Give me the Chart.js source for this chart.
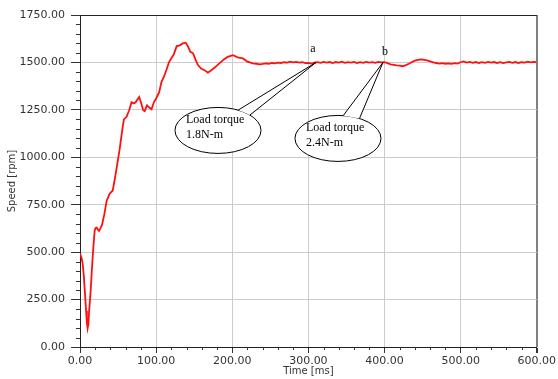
<!DOCTYPE html>
<html lang="en">
<head>
    <meta charset="UTF-8">
    <title>Speed response</title>
    <script src="https://cdn.jsdelivr.net/npm/chart.js"></script>
    <style>
        html, body { margin: 0; padding: 0; background: #ffffff; }
        .chart-box { width: 558px; height: 379px; }
    </style>
</head>
<body>
    <div class="chart-box"><canvas id="speedChart"></canvas></div>

    <script>
        // Motor speed vs time
        const timeMs = [
            0, 2, 3.5, 5, 6.5, 8, 9, 10, 11, 12, 14, 15.3, 16.6, 17.5, 19.2, 20.5, 22, 23.5, 25, 27, 29,
            32, 35, 37, 39, 43, 46, 49, 52, 54, 56, 57.6, 61, 64.6, 67.7, 70.7, 73, 75.5, 77.7, 80,
            83, 85, 88, 91, 94, 97, 100, 104, 107, 110, 113.5, 117, 120, 123, 127, 131, 135, 139,
            142, 145, 148.5, 152, 155, 159, 164, 168, 172.5, 177, 183, 189, 194, 201, 207, 214, 220,
            227, 232, 236,
            240, 244, 248, 252, 256, 260, 264, 268, 272, 276, 280, 284, 288, 292, 296, 300,
            304, 308, 312, 316, 320, 324, 328, 332, 336, 340, 344, 348, 352, 356, 360, 364,
            368, 372, 376, 380, 384, 388, 392, 396, 400, 404, 408, 412, 416, 420, 424, 428,
            432, 436, 440, 444, 448, 452, 456, 460, 464, 468, 472, 476, 480, 484, 488, 492,
            496, 500, 504, 508, 512, 516, 520, 524, 528, 532, 536, 540, 544, 548, 552, 556,
            560, 564, 568, 572, 576, 580, 584, 588, 592, 596, 600
        ];
        const speedRpm = [
            492, 470, 440, 375, 285, 190, 130, 98, 120, 190, 296, 386, 470, 524, 612, 628, 630, 618, 612, 628, 645,
            700, 770, 790, 808, 825, 892, 965, 1040, 1100, 1157, 1200, 1212, 1248, 1290, 1284, 1290, 1305, 1318, 1290,
            1248, 1243, 1274, 1262, 1253, 1290, 1310, 1343, 1396, 1422, 1460, 1502, 1522, 1540, 1586, 1590, 1600, 1604,
            1583, 1556, 1548, 1512, 1486, 1468, 1458, 1446, 1459, 1473, 1495, 1516, 1529, 1538, 1527, 1521, 1504,
            1495, 1493, 1490,
            1492, 1495, 1493, 1497, 1495, 1499, 1497, 1501, 1499, 1504, 1500, 1503, 1499, 1501, 1496, 1498,
            1494, 1499, 1502, 1498, 1503, 1499, 1502, 1497, 1502, 1499, 1504, 1498, 1502, 1499, 1503, 1497,
            1501, 1498, 1503, 1499, 1502, 1498, 1503, 1500, 1502, 1496, 1490, 1487, 1484, 1483, 1480, 1486,
            1493, 1502, 1509, 1513, 1516, 1514, 1511, 1506, 1500, 1497, 1494, 1496, 1493, 1495, 1492, 1496,
            1494, 1501, 1505, 1499, 1503, 1498, 1502, 1497, 1501, 1498, 1503, 1499, 1502, 1497, 1501, 1496,
            1500, 1503, 1498, 1502, 1497, 1501, 1499, 1504, 1500, 1503, 1501
        ];

        // Load torque steps
        const loadTimes = [310, 398];
        const loadSpeed = [1500, 1500];
        const loadNames = ['a', 'b'];
        const loadTorque = ['1.8N-m', '2.4N-m'];

        // Callout bubble placement, in pixels from the tip
        const calloutStyle = [
            { dx: -98, dy: 68, base: [62, 42], name: [-3, -14] },
            { dx: -45, dy: 76, base: [83, 60], name: [2, -11] }
        ];

        const tickFont = { family: '"DejaVu Sans", sans-serif', size: 11 };
        const titleFont = { family: '"DejaVu Sans", sans-serif', size: 10 };

        // Small ticks between the labelled ones
        const minorTicks = {
            id: 'minorTicks',
            afterDraw(chart) {
                const { ctx, chartArea, scales: { x, y } } = chart;
                ctx.save();
                ctx.strokeStyle = '#333';
                ctx.lineWidth = 1;
                ctx.beginPath();
                for (let v = 50; v < 1750; v += 50) {
                    if (v % 250 === 0) continue;
                    const py = Math.round(y.getPixelForValue(v)) + 0.5;
                    ctx.moveTo(chartArea.left - 4, py);
                    ctx.lineTo(chartArea.left, py);
                }
                for (let v = 20; v < 600; v += 20) {
                    if (v % 100 === 0) continue;
                    const px = Math.round(x.getPixelForValue(v)) + 0.5;
                    ctx.moveTo(px, chartArea.bottom);
                    ctx.lineTo(px, chartArea.bottom + 3);
                }
                ctx.stroke();
                ctx.restore();
            }
        };

        // Speech-bubble callouts for the load steps
        const callouts = {
            id: 'callouts',
            afterDatasetsDraw(chart) {
                const { ctx, scales: { x, y } } = chart;
                ctx.save();
                loadTimes.forEach((t, i) => {
                    const s = calloutStyle[i];
                    const tipX = x.getPixelForValue(t);
                    const tipY = y.getPixelForValue(loadSpeed[i]);
                    const cx = tipX + s.dx, cy = tipY + s.dy;
                    const rx = 43, ry = 23;
                    const pt = deg => {
                        const a = deg * Math.PI / 180;
                        return [cx + rx * Math.cos(a), cy - ry * Math.sin(a)];
                    };
                    const p1 = pt(s.base[0]), p2 = pt(s.base[1]);

                    ctx.lineWidth = 1;
                    ctx.strokeStyle = '#000';
                    ctx.fillStyle = '#fff';

                    ctx.beginPath();
                    ctx.ellipse(cx, cy, rx, ry, 0, 0, Math.PI * 2);
                    ctx.fill();
                    ctx.stroke();

                    ctx.beginPath();
                    ctx.moveTo(p1[0], p1[1]);
                    ctx.lineTo(tipX, tipY);
                    ctx.lineTo(p2[0], p2[1]);
                    ctx.closePath();
                    ctx.fill();

                    ctx.beginPath();
                    ctx.moveTo(p1[0], p1[1]);
                    ctx.lineTo(tipX, tipY);
                    ctx.lineTo(p2[0], p2[1]);
                    ctx.stroke();

                    ctx.fillStyle = '#000';
                    ctx.font = '12px "Liberation Serif", serif';
                    ctx.textAlign = 'left';
                    ctx.textBaseline = 'middle';
                    ctx.fillText('Load torque', cx - 32, cy - 11);
                    ctx.fillText(loadTorque[i], cx - 32, cy + 4);

                    ctx.textAlign = 'center';
                    ctx.fillText(loadNames[i], tipX + s.name[0], tipY + s.name[1]);
                });
                ctx.restore();
            }
        };

        const speedCtx = document.getElementById('speedChart').getContext('2d');
        const speedChart = new Chart(speedCtx, {
            type: 'line',
            data: {
                datasets: [{
                    label: 'Speed',
                    data: timeMs.map((t, i) => ({ x: t, y: speedRpm[i] })),
                    borderColor: '#ff1010',
                    borderWidth: 1.8,
                    pointRadius: 0,
                    tension: 0,
                    fill: false
                }]
            },
            options: {
                responsive: true,
                maintainAspectRatio: false,
                animation: false,
                layout: { padding: { top: 15, right: 20, left: 0, bottom: 0 } },
                plugins: {
                    legend: { display: false },
                    tooltip: { enabled: false }
                },
                scales: {
                    x: {
                        type: 'linear',
                        min: 0,
                        max: 600,
                        afterFit: s => { s.height = 32; },
                        ticks: {
                            stepSize: 100,
                            maxRotation: 0,
                            padding: 2,
                            color: '#333',
                            font: tickFont,
                            callback: v => v.toFixed(2)
                        },
                        grid: {
                            color: c => c.tick.value === 0 ? 'rgba(0,0,0,0)' : (c.tick.value === 600 ? '#808080' : '#cccccc'),
                            lineWidth: c => c.tick.value === 600 ? 2 : 1,
                            tickColor: '#333',
                            tickLength: 6
                        },
                        border: { color: '#222', width: 1 },
                        title: {
                            display: true,
                            text: 'Time [ms]',
                            color: '#333',
                            font: titleFont,
                            padding: { top: 0, bottom: 2 }
                        }
                    },
                    y: {
                        min: 0,
                        max: 1750,
                        afterFit: s => { s.width = 80; },
                        ticks: {
                            stepSize: 250,
                            padding: 6,
                            color: '#333',
                            font: tickFont,
                            callback: v => v.toFixed(2)
                        },
                        grid: {
                            color: c => c.tick.value === 0 ? 'rgba(0,0,0,0)' : (c.tick.value === 1750 ? '#222' : '#cccccc'),
                            tickColor: '#333',
                            tickLength: 9
                        },
                        border: { color: '#222', width: 1 },
                        title: {
                            display: true,
                            text: 'Speed [rpm]',
                            color: '#333',
                            font: titleFont,
                            padding: { top: 6, bottom: 0 }
                        }
                    }
                }
            },
            plugins: [minorTicks, callouts]
        });
    </script>
</body>
</html>
